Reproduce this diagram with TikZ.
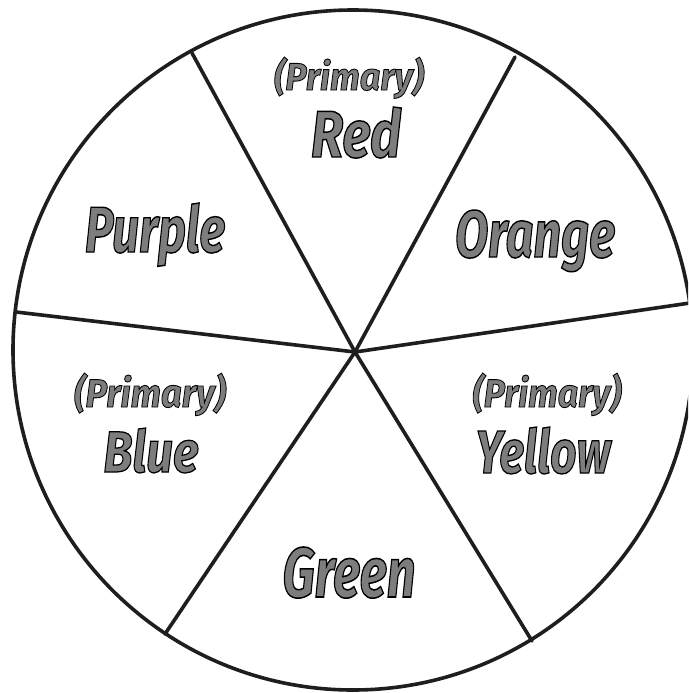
\documentclass[tikz,border=0pt]{standalone}
\usepackage{fontspec}
\setmainfont{Fira Sans}
\usepackage{graphicx}
\definecolor{txtgray}{RGB}{125,125,125}
\definecolor{inkline}{RGB}{30,30,30}
\newcommand\outltext[1]{{\color{txtgray}\special{pdf:literal direct 0 G 2 Tr 0.22 w}#1\special{pdf:literal direct 0 Tr}}}
\newcommand\lab[3]{\resizebox{#1pt}{#2pt}{\outltext{\bfseries\itshape #3}}}
\tikzset{
  wheel/.style={draw=inkline, line width=3.6pt},
  spoke/.style={draw=inkline, line width=3.6pt, line cap=round},
  word/.style={inner sep=0pt, anchor=base}
}
\begin{document}
\begin{tikzpicture}[x=1pt,y=-1pt]
\useasboundingbox (0,0) rectangle (688,693);
\clip (0,0) rectangle (688,693);
\fill[white] (0,0) rectangle (688,693);
\coordinate (c) at (353,350);
\coordinate (hub) at (355,352);
\coordinate (pA) at (192,53);
\coordinate (pB) at (515,57);
\coordinate (pC) at (690,303);
\coordinate (pD) at (532,641);
\coordinate (pE) at (165,634);
\coordinate (pF) at (16,312);
\draw[wheel] (c) circle[radius=340];
\draw[spoke] (hub) -- (pA);
\draw[spoke] (hub) -- (pB);
\draw[spoke] (hub) -- (pC);
\draw[spoke] (hub) -- (pD);
\draw[spoke] (hub) -- (pE);
\draw[spoke] (hub) -- (pF);
\node[word] (pr1) at (349,90) {\lab{150}{33}{(Primary)}};
\node[word] (red) at (356,157) {\lab{90}{50}{Red}};
\node[word] (purple) at (155,252) {\lab{140}{49}{Purple}};
\node[word] (orange) at (535,257) {\lab{160}{47}{Orange}};
\node[word] (pr2) at (150,407) {\lab{152}{34}{(Primary)}};
\node[word] (blue) at (151,472) {\lab{95}{44}{Blue}};
\node[word] (pr3) at (547,407) {\lab{149}{34}{(Primary)}};
\node[word] (yellow) at (543,473) {\lab{135}{46}{Yellow}};
\node[word] (green) at (349,597) {\lab{133}{50}{Green}};
\end{tikzpicture}
\end{document}
